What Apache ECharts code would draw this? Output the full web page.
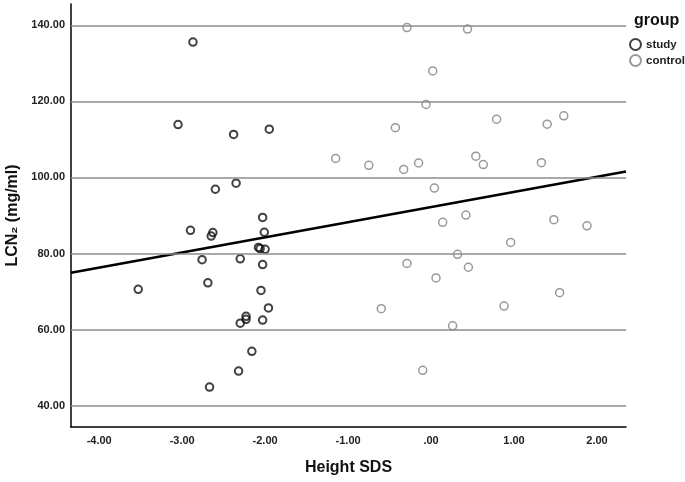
<!DOCTYPE html>
<html><head><meta charset="utf-8">
<script src="https://cdn.jsdelivr.net/npm/echarts@6/dist/echarts.min.js"></script>
<style>html,body{margin:0;padding:0;background:#fff}#c{width:685px;height:482px}</style>
</head><body><div id="c"></div>
<script>
// Study group (Height SDS, LCN2)
const studyX = [-2.87, -3.05, -2.38, -1.95, -2.60, -2.35, -2.03, -2.90, -2.63, -2.65, -2.01, -2.08, -2.06, -2.00, -2.76, -2.30, -2.03, -2.69, -3.53, -2.05, -1.96, -2.23, -2.23, -2.30, -2.03, -2.16, -2.32, -2.67];
const studyY = [135.6, 113.9, 111.3, 112.7, 96.9, 98.5, 89.5, 86.1, 85.5, 84.6, 85.6, 81.6, 81.3, 81.1, 78.4, 78.6, 77.1, 72.3, 70.6, 70.3, 65.7, 63.5, 62.7, 61.7, 62.5, 54.3, 49.1, 44.9];
// Control group
const controlX = [-0.29, 0.44, 0.02, -0.06, 1.60, 0.79, 1.40, -0.43, -1.15, 0.54, 0.63, 1.33, -0.15, -0.75, -0.33, 0.04, 0.42, 1.48, 0.14, 1.88, 0.96, 0.32, -0.29, 0.45, 0.06, 1.55, 0.88, -0.60, 0.26, -0.10];
const controlY = [139.4, 139.0, 128.0, 119.2, 116.2, 115.3, 114.0, 113.1, 105.0, 105.6, 103.4, 103.9, 103.8, 103.2, 102.1, 97.2, 90.1, 88.9, 88.2, 87.3, 82.9, 79.8, 77.4, 76.4, 73.6, 69.7, 66.2, 65.5, 61.0, 49.3];
// Tick labels
const xTicks = [-4, -3, -2, -1, 0, 1, 2];
const yTicks = [40, 60, 80, 100, 120, 140];
// Fit line (total) coefficients
const fitCoef = [92.2, 3.98];
const xRange = [-4.34, 2.35];
const yRange = [34.4, 145.6];

function fmt(v) { return v === 0 ? '.00' : v.toFixed(2); }
const FONT = '"Liberation Sans", Arial, sans-serif';

const chart = echarts.init(document.getElementById('c'), null, {renderer: 'canvas'});
chart.setOption({
  animation: false,
  backgroundColor: '#fff',
  title: {
    text: 'group', left: 634, top: 13, padding: 0,
    textStyle: {fontFamily: FONT, fontWeight: 'bold', fontSize: 16, color: '#111'}
  },
  legend: {
    orient: 'vertical', left: 629, top: 38, padding: 0,
    itemWidth: 11, itemHeight: 11, itemGap: 3,
    data: ['study', 'control'],
    textStyle: {fontFamily: FONT, fontWeight: 'bold', fontSize: 11.5, color: '#222'}
  },
  grid: {left: 71, right: 59, top: 4, bottom: 55, containLabel: false, outerBoundsMode: 'none'},
  xAxis: {
    type: 'value', min: xRange[0], max: xRange[1],
    name: 'Height SDS', nameLocation: 'middle', nameGap: 33,
    nameTextStyle: {fontFamily: FONT, fontWeight: 'bold', fontSize: 16, color: '#111'},
    axisLine: {show: true, onZero: false, lineStyle: {color: '#000', width: 1.5}},
    axisTick: {show: false, customValues: xTicks},
    splitLine: {show: false},
    axisLabel: {customValues: xTicks, formatter: fmt, margin: 8,
      fontFamily: FONT, fontWeight: 'bold', fontSize: 11, color: '#222'}
  },
  yAxis: {
    type: 'value', min: yRange[0], max: yRange[1],
    name: 'LCN\u2082 (mg/ml)', nameLocation: 'middle', nameGap: 50, nameRotate: 90,
    nameTextStyle: {fontFamily: FONT, fontWeight: 'bold', fontSize: 16, color: '#111'},
    axisLine: {show: true, onZero: false, lineStyle: {color: '#000', width: 1.5}},
    axisTick: {show: false, customValues: yTicks},
    splitLine: {show: false},
    axisLabel: {customValues: yTicks, formatter: fmt, margin: 6,
      fontFamily: FONT, fontWeight: 'bold', fontSize: 11, color: '#222'}
  },
  series: [
    {
      name: 'grid', type: 'scatter', data: [], silent: true, z: 1,
      markLine: {
        silent: true, symbol: 'none', label: {show: false},
        lineStyle: {color: '#8c8c8c', width: 1.5, type: 'solid'},
        data: yTicks.map(v => ({yAxis: v}))
      }
    },
    {
      name: 'study', type: 'scatter', symbol: 'circle', symbolSize: 7.5, z: 3,
      itemStyle: {color: 'rgba(255,255,255,0)', borderColor: '#111', borderWidth: 2},
      data: studyX.map((x, i) => [x, studyY[i]])
    },
    {
      name: 'control', type: 'scatter', symbol: 'circle', symbolSize: 8, z: 3,
      itemStyle: {color: 'rgba(255,255,255,0)', borderColor: '#808080', borderWidth: 1.5},
      data: controlX.map((x, i) => [x, controlY[i]])
    },
    {
      name: 'fit', type: 'line', symbol: 'none', z: 4, silent: true,
      lineStyle: {color: '#000', width: 2.5},
      data: xRange.map(x => [x, fitCoef[0] + fitCoef[1] * x])
    }
  ]
});
</script></body></html>
